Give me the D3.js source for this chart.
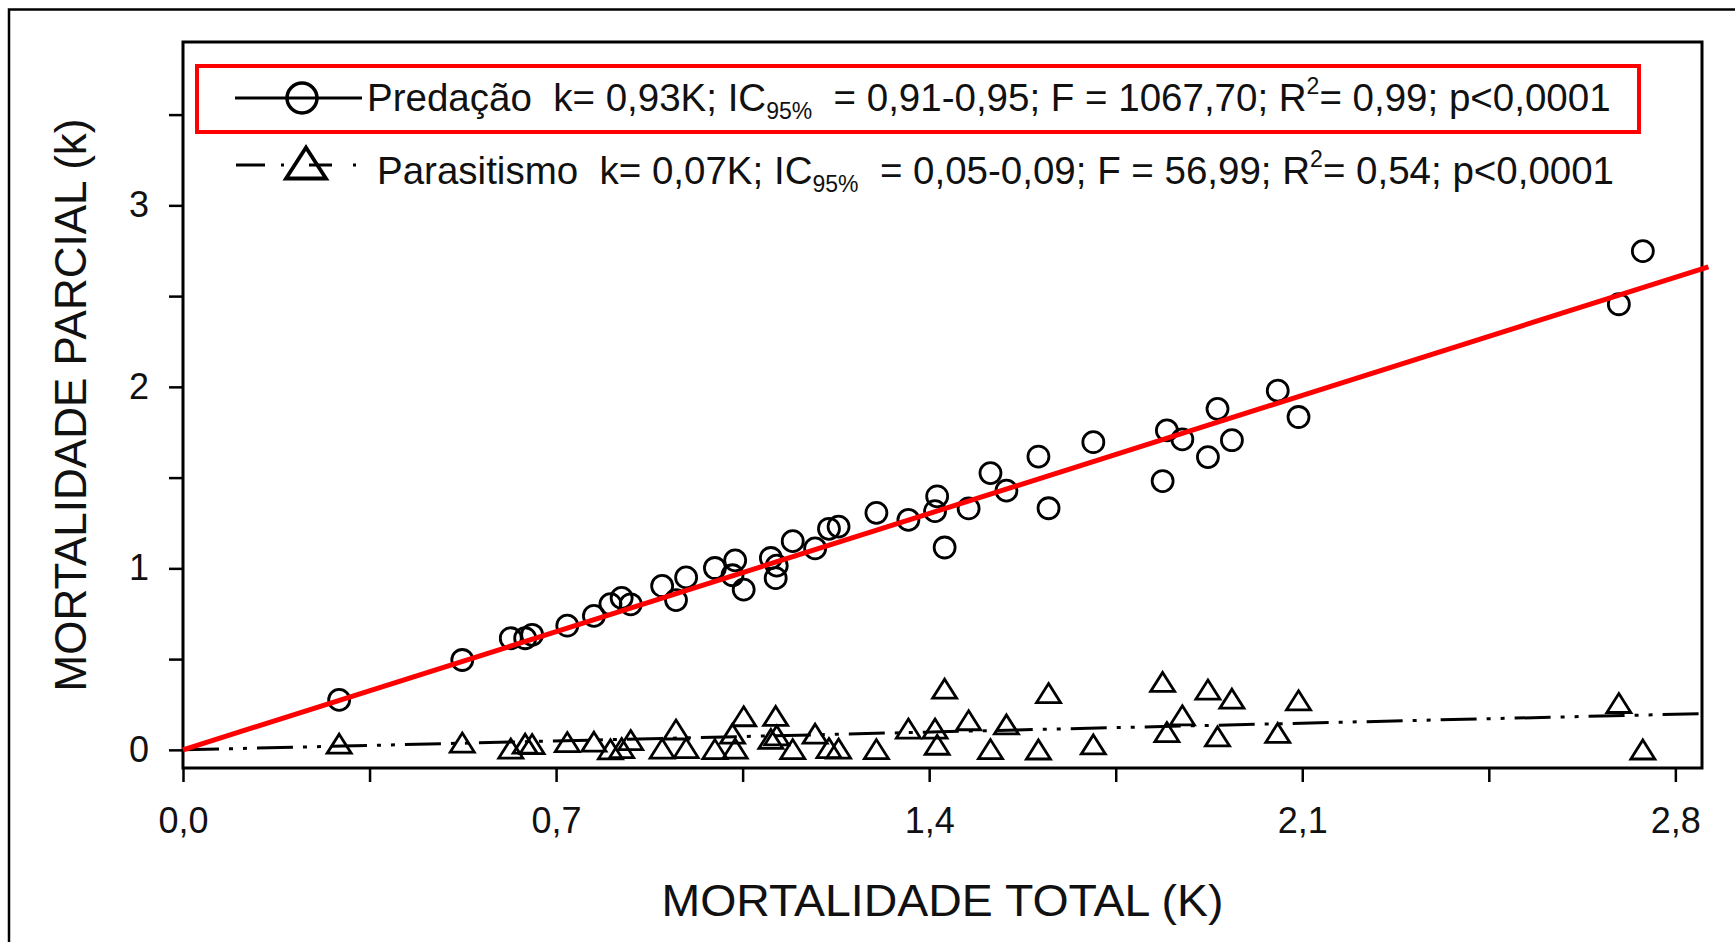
<!DOCTYPE html>
<html>
<head>
<meta charset="utf-8">
<script src="https://cdn.jsdelivr.net/npm/d3@7/dist/d3.min.js"></script>
<style>
  body { margin: 0; background: #fff; }
  svg { display: block; font-family: "Liberation Sans", Arial, sans-serif; }
</style>
</head>
<body>
<div id="chart"></div>
<script>
// values
const totalK = [0.293, 0.524, 0.615, 0.642, 0.655, 0.721, 0.771, 0.802, 0.823, 0.840,
  0.899, 0.925, 0.944, 0.998, 1.031, 1.036, 1.052, 1.103, 1.112, 1.114,
  1.144, 1.186, 1.212, 1.230, 1.301, 1.361, 1.411, 1.415, 1.429, 1.474,
  1.515, 1.545, 1.605, 1.624, 1.708, 1.838, 1.846, 1.875, 1.923, 1.941,
  1.968, 2.054, 2.093, 2.694, 2.739];
const predacao = [0.275, 0.495, 0.615, 0.615, 0.634, 0.684, 0.738, 0.803, 0.837, 0.802,
  0.903, 0.825, 0.950, 1.002, 0.962, 1.044, 0.883, 1.057, 0.946, 1.015,
  1.150, 1.110, 1.218, 1.230, 1.306, 1.267, 1.315, 1.397, 1.115, 1.330,
  1.525, 1.428, 1.616, 1.331, 1.695, 1.481, 1.760, 1.711, 1.613, 1.879,
  1.706, 1.979, 1.834, 2.455, 2.748];
const parasitismo = [0.034, 0.040, 0.007, 0.034, 0.032, 0.043, 0.045, 0.003, 0.010, 0.054,
  0.007, 0.112, 0.010, 0.004, 0.089, 0.007, 0.185, 0.060, 0.187, 0.080,
  0.004, 0.089, 0.010, 0.007, 0.004, 0.117, 0.117, 0.028, 0.337, 0.163,
  0.004, 0.140, 0.002, 0.313, 0.030, 0.374, 0.098, 0.190, 0.332, 0.074,
  0.282, 0.093, 0.273, 0.258, 0.002];

// regression slopes (k = b*K)
const predSlope = 0.93;
const parasSlope = 0.07;

// ticks
const xTicks = [0, 0.7, 1.4, 2.1, 2.8];
const xTickLabels = ["0,0", "0,7", "1,4", "2,1", "2,8"];
const yTicks = [0, 1, 2, 3];
const yTickLabels = ["0", "1", "2", "3"];

// legend texts
const seriesNames = ["Predação", "Parasitismo"];
const slopeLabels = ["0,93K", "0,07K"];
const ciLabels = ["0,91-0,95", "0,05-0,09"];
const fLabels = ["1067,70", "56,99"];
const r2Labels = ["0,99", "0,54"];
const pLabels = ["0,0001", "0,0001"];

const W = 1735, H = 942;
const svg = d3.select("#chart").append("svg")
  .attr("width", W)
  .attr("height", H);

// outer frame
svg.append("rect")
  .attr("x", 9).attr("y", 9.5)
  .attr("width", 1745).attr("height", 950)
  .attr("fill", "none").attr("stroke", "#000").attr("stroke-width", 2.5);

//scales
const x = d3.scaleLinear().domain([0, 2.85]).range([183, 1702]);
const y = d3.scaleLinear().domain([-0.1, 3.9]).range([768, 42]);

// x axis with minor ticks every 0.35
const xAll = d3.range(9).map(i => i * 0.35);
const xAxis = d3.axisBottom(x)
  .tickValues(xAll)
  .tickSize(14)
  .tickSizeOuter(0)
  .tickPadding(25)
  .tickFormat((d, i) => (i % 2 === 0 ? xTickLabels[i / 2] : ""));
const gx = svg.append("g")
  .attr("transform", `translate(0,${768})`)
  .call(xAxis);

// y axis with minor ticks every 0.5
const yAll = d3.range(8).map(i => i * 0.5);
const yAxis = d3.axisLeft(y)
  .tickValues(yAll)
  .tickSize(14)
  .tickSizeOuter(0)
  .tickPadding(20)
  .tickFormat((d, i) => (i % 2 === 0 ? yTickLabels[i / 2] : ""));
const gy = svg.append("g")
  .attr("transform", `translate(${183},0)`)
  .call(yAxis);

[gx, gy].forEach(g => {
  g.select(".domain").remove();
  g.selectAll(".tick line").attr("stroke", "#000").attr("stroke-width", 2.5);
  g.selectAll(".tick text")
    .attr("fill", "#111")
    .style("font-size", "36px")
    .style("font-family", '"Liberation Sans", Arial, sans-serif');
});

// plot frame
svg.append("rect")
  .attr("x", x(0)).attr("y", y(3.9))
  .attr("width", x(2.85) - x(0)).attr("height", y(-0.1) - y(3.9))
  .attr("fill", "none").attr("stroke", "#000").attr("stroke-width", 3);

// axis titles
svg.append("text")
  .attr("x", (x(0) + x(2.85)) / 2)
  .attr("y", 916)
  .attr("text-anchor", "middle")
  .attr("textLength", 562)
  .attr("lengthAdjust", "spacingAndGlyphs")
  .style("font-size", "44px")
  .attr("fill", "#111")
  .text("MORTALIDADE TOTAL (K)");

svg.append("text")
  .attr("transform", `translate(86,${(y(-0.1) + y(3.9)) / 2}) rotate(-90)`)
  .attr("text-anchor", "middle")
  .style("font-size", "44px")
  .attr("fill", "#111")
  .text("MORTALIDADE PARCIAL (k)");

// parasitism regression line (dash dot dot)
const xEnd = 2.85;
svg.append("line")
  .attr("x1", x(0)).attr("y1", y(0))
  .attr("x2", x(xEnd)).attr("y2", y(parasSlope * xEnd))
  .attr("stroke", "#000").attr("stroke-width", 3)
  .attr("stroke-dasharray", "36,10,4,10,4,10");

// triangle symbol, centered on its box
const triPath = (w, h) => `M0,${-h / 2}L${w / 2},${h / 2}L${-w / 2},${h / 2}Z`;

svg.append("g").selectAll("path")
  .data(totalK)
  .join("path")
  .attr("transform", (d, i) => `translate(${x(d)},${y(parasitismo[i])})`)
  .attr("d", triPath(24, 19))
  .attr("fill", "none")
  .attr("stroke", "#000")
  .attr("stroke-width", 2.8)
  .attr("stroke-linejoin", "miter");

svg.append("g").selectAll("circle")
  .data(totalK)
  .join("circle")
  .attr("cx", d => x(d))
  .attr("cy", (d, i) => y(predacao[i]))
  .attr("r", 10.5)
  .attr("fill", "none")
  .attr("stroke", "#000")
  .attr("stroke-width", 2.8);

// predation regression line, drawn in red over the points
svg.append("line")
  .attr("x1", x(0)).attr("y1", y(0))
  .attr("x2", x(2.862)).attr("y2", y(predSlope * 2.862))
  .attr("stroke", "#ff0000").attr("stroke-width", 5);

// legend
svg.append("rect")
  .attr("x", 197).attr("y", 66)
  .attr("width", 1442).attr("height", 66)
  .attr("fill", "none").attr("stroke", "#ff0000").attr("stroke-width", 4);

const rowY = [98, 165];
const textX = [367, 377];
const textBase = [111, 184];

// row 1 key: solid line + circle
svg.append("line")
  .attr("x1", 235).attr("x2", 362).attr("y1", rowY[0]).attr("y2", rowY[0])
  .attr("stroke", "#000").attr("stroke-width", 3);
svg.append("circle")
  .attr("cx", 302).attr("cy", rowY[0]).attr("r", 15)
  .attr("fill", "none").attr("stroke", "#000").attr("stroke-width", 3.5);

// row 2 key: dash-dot line + triangle
svg.append("line")
  .attr("x1", 236).attr("x2", 362).attr("y1", rowY[1]).attr("y2", rowY[1])
  .attr("stroke", "#000").attr("stroke-width", 3)
  .attr("stroke-dasharray", "29,16,3,25,23,21,3,40");
svg.append("path")
  .attr("transform", `translate(306,${rowY[1] - 2})`)
  .attr("d", triPath(40, 31))
  .attr("fill", "none").attr("stroke", "#000").attr("stroke-width", 3.8);

seriesNames.forEach((name, i) => {
  const t = svg.append("text")
    .attr("x", textX[i]).attr("y", textBase[i])
    .attr("xml:space", "preserve")
    .style("white-space", "pre")
    .style("font-size", "38.5px")
    .attr("fill", "#111");
  t.append("tspan").text(`${name}  k= ${slopeLabels[i]}; IC`);
  t.append("tspan").attr("dy", 8).style("font-size", "23px").text("95%");
  t.append("tspan").attr("dy", -8).text(`  = ${ciLabels[i]}; F = ${fLabels[i]}; R`);
  t.append("tspan").attr("dy", -17).style("font-size", "23px").text("2");
  t.append("tspan").attr("dy", 17).text(`= ${r2Labels[i]}; p<${pLabels[i]}`);
});
</script>
</body>
</html>
